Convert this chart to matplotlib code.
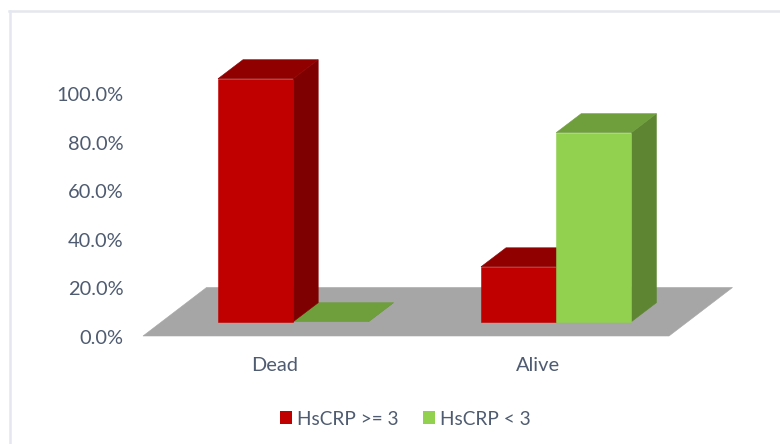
import matplotlib
matplotlib.use("Agg")
import matplotlib.pyplot as plt
from matplotlib.patches import Polygon, Patch
from matplotlib.lines import Line2D
from matplotlib.transforms import ScaledTranslation

categories = ["Dead", "Alive"]
series_names = ["HsCRP >= 3", "HsCRP < 3"]
hs_high = [100.0, 22.6]
hs_low = [0.0, 77.8]
y_ticks = [0, 20, 40, 60, 80, 100]

FRONT = ["#C00000", "#92D050"]
TOP = ["#900000", "#6F9F3C"]
SIDE = ["#7F0000", "#5E8532"]
TEXT = "#4E5B70"
FONT = "Lato"

W, H = 780, 444
fig = plt.figure(figsize=(W / 100, H / 100), dpi=100, facecolor="white")

# axes: x 0..2 categories across floor front edge, y 0..100
L, R, B, T = 143, 669, 336, 93
ax = fig.add_axes([L / W, 1 - B / H, (R - L) / W, (B - T) / H])
ax.set_xlim(0, 2)
ax.set_ylim(0, 100)
ux = (R - L) / 2   # px per category
uy = (B - T) / 100  # px per percent

DX, DY = 25 / ux, 19 / uy         # bar depth
BASE_Y = 14.3 / uy                # bar base above floor front
BAR_W = 75.2 / ux
BAR_START = 75 / ux               # first bar's left edge within a category
FLOOR_DX, FLOOR_DY = 63.5 / ux, 48.5 / uy


def poly(pts, color, z):
    ax.add_patch(Polygon(pts, closed=True, facecolor=color, edgecolor=color,
                         linewidth=0.4, zorder=z, clip_on=False))


poly([(0, 0), (2, 0), (2 + FLOOR_DX, FLOOR_DY), (FLOOR_DX, FLOOR_DY)], "#A6A6A6", 1)


def bar3d(x0, val, s, z):
    x1 = x0 + BAR_W
    y0, y1 = BASE_Y, BASE_Y + val
    poly([(x1, y0), (x1 + DX, y0 + DY), (x1 + DX, y1 + DY), (x1, y1)], SIDE[s], z)
    poly([(x0, y1), (x1, y1), (x1 + DX, y1 + DY), (x0 + DX, y1 + DY)], TOP[s], z)
    if val > 0:
        poly([(x0, y0), (x1, y0), (x1, y1), (x0, y1)], FRONT[s], z + 0.1)


for i in range(len(categories)):
    x0 = i + BAR_START
    bar3d(x0 + BAR_W, hs_low[i], 1, 3 if hs_low[i] > 0 else 2)
    bar3d(x0, hs_high[i], 0, 2.5)

for s in ax.spines.values():
    s.set_visible(False)
ax.patch.set_alpha(0)
ax.set_yticks(y_ticks)
ax.set_yticklabels([f"{v:.1f}%" for v in y_ticks], fontsize=14.4, color=TEXT, family=FONT)
ax.set_xticks([0.5, 1.5])
ax.set_xticklabels(categories, fontsize=14.4, color=TEXT, family=FONT)
ax.tick_params(axis="y", length=0, pad=14)
ax.tick_params(axis="x", length=0, pad=15)
shift = ScaledTranslation(0, -1 / 100, fig.dpi_scale_trans)
for lab in ax.get_yticklabels():
    lab.set_transform(lab.get_transform() + shift)

handles = [Patch(facecolor=FRONT[0], edgecolor="none"), Patch(facecolor=FRONT[1], edgecolor="none")]
fig.legend(handles, series_names, loc="center", bbox_to_anchor=(405.5 / W, 1 - 419 / H),
           ncol=2, frameon=False, handlelength=0.65, handleheight=0.65, handletextpad=0.27,
           columnspacing=1.26, prop={"family": FONT, "size": 13.7}, labelcolor=TEXT)

# outer chart frame
frame = "#E4E7EF"
fig.add_artist(Line2D([9.5 / W, 9.5 / W], [0, 1 - 11 / H], color=frame, lw=1.8))
fig.add_artist(Line2D([9 / W, 1], [1 - 11 / H, 1 - 11 / H], color=frame, lw=1.8))

fig.savefig("out.png", dpi=100, facecolor="white")
